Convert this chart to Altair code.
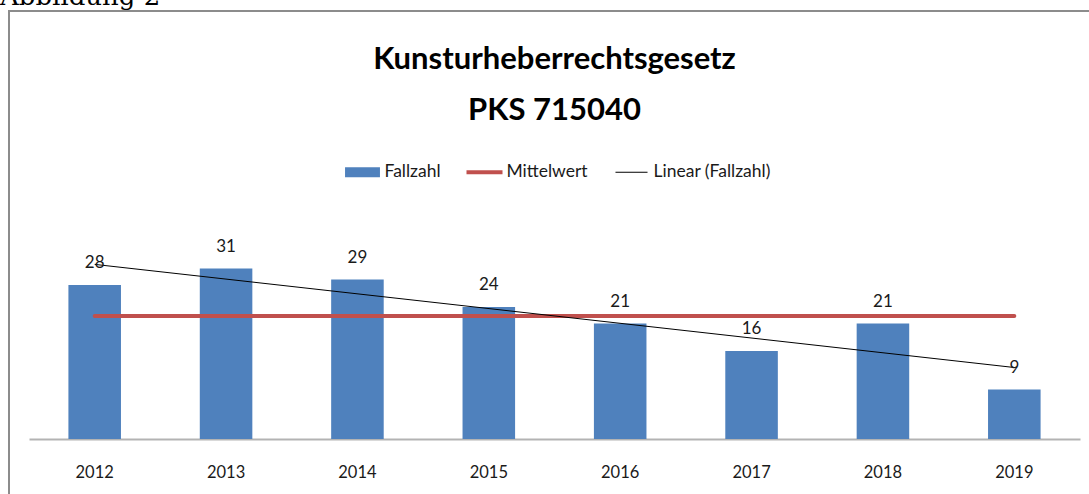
import altair as alt
import pandas as pd

# ---- data ----
years = [2012, 2013, 2014, 2015, 2016, 2017, 2018, 2019]
fallzahl = [28, 31, 29, 24, 21, 16, 21, 9]
series = ["Fallzahl", "Mittelwert", "Linear (Fallzahl)"]
series_colors = ["#4F81BD", "#C0504D", "#000000"]
title_lines = ["Kunsturheberrechtsgesetz", "PKS 715040"]
caption = "Abbildung 2"

df = pd.DataFrame({"Jahr": years, "Fallzahl": fallzahl})
leg_df = pd.DataFrame({"Serie": series})
one = pd.DataFrame({"k": [0]})

FONT = "Lato, Roboto, sans-serif"

# legend symbol paths (unit coordinates)
legend_paths = [
    "M-0.97,-0.28H0.97V0.28H-0.97Z",
    "M-1,-0.11H1V0.11H-1Z",
    "M-0.89,-0.028H0.89V0.028H-0.89Z",
]

x = alt.X(
    "Jahr:O",
    title=None,
    scale=alt.Scale(paddingInner=0.6, paddingOuter=0.3),
    axis=alt.Axis(
        labelAngle=0, ticks=False, tickSize=0, labelFontSize=16.5, labelFont=FONT,
        labelColor="#1a1a1a", labelPadding=38, labelBaseline="alphabetic",
        domainColor="#B3B3B3", domainWidth=2, grid=False,
    ),
)
yscale = alt.Scale(domain=[0, 35])
y = alt.Y("Fallzahl:Q", scale=yscale, axis=None)

base = alt.Chart(df)

frame = alt.Chart(one).mark_rect(fill=None, stroke="#8C8C8C", strokeWidth=2).encode(
    x=alt.value(-20), x2=alt.value(1100), y=alt.value(-235.5), y2=alt.value(300)
)

cap = alt.Chart(one).transform_calculate(t=f"'{caption}'").mark_text(
    font="DejaVu Serif", fontSize=26, align="left", baseline="alphabetic", color="#000000"
).encode(x=alt.value(-29), y=alt.value(-241.5), text="t:N")

t1 = alt.Chart(one).transform_calculate(t=f"'{title_lines[0]}'").mark_text(
    font=FONT, fontSize=31, fontWeight="bold", align="center", baseline="alphabetic", color="#000000"
).encode(x=alt.value(525.5), y=alt.value(-177.5), text="t:N")

t2 = alt.Chart(one).transform_calculate(t=f"'{title_lines[1]}'").mark_text(
    font=FONT, fontSize=31, fontWeight="bold", align="center", baseline="alphabetic", color="#000000"
).encode(x=alt.value(525.5), y=alt.value(-126.5), text="t:N")

bars = base.mark_bar(color="#4F81BD").encode(x=x, y=y)

mean_line = base.transform_joinaggregate(Mittel="mean(Fallzahl)").mark_line(
    color="#C0504D", strokeWidth=4, strokeCap="round"
).encode(x=x, y=alt.Y("Mittel:Q", scale=yscale, axis=None))

trend = base.transform_regression("Jahr", "Fallzahl").mark_line(
    color="#000000", strokeWidth=1
).encode(x=x, y=y)

labels = base.mark_text(
    dy=-17, baseline="alphabetic", fontSize=17, font=FONT, color="#1a1a1a"
).encode(x=x, y=y, text="Fallzahl:Q")

legend_cfg = dict(
    title=None, orient="none", legendX=315.5, legendY=-92.5, direction="horizontal",
    symbolSize=1296, symbolStrokeWidth=0, symbolOpacity=1, labelFontSize=17.5,
    labelFont=FONT, labelColor="#1a1a1a", labelOffset=4, columnPadding=25, padding=0,
)

legend_layer = alt.Chart(leg_df).mark_point(filled=True, opacity=0).encode(
    color=alt.Color("Serie:N", scale=alt.Scale(domain=series, range=series_colors),
                    legend=alt.Legend(**legend_cfg)),
    shape=alt.Shape("Serie:N", scale=alt.Scale(domain=series, range=legend_paths),
                    legend=alt.Legend(**legend_cfg)),
)

chart = alt.layer(frame, cap, t1, t2, bars, mean_line, trend, labels, legend_layer).properties(
    width=1051, height=192.5,
    autosize=alt.AutoSizeParams(type="none"),
    padding={"left": 29, "top": 246.5, "right": 9, "bottom": 55},
    background="#FFFFFF",
).configure_view(stroke=None)

chart.save("out.html", embed_options={"renderer": "svg", "actions": False})
